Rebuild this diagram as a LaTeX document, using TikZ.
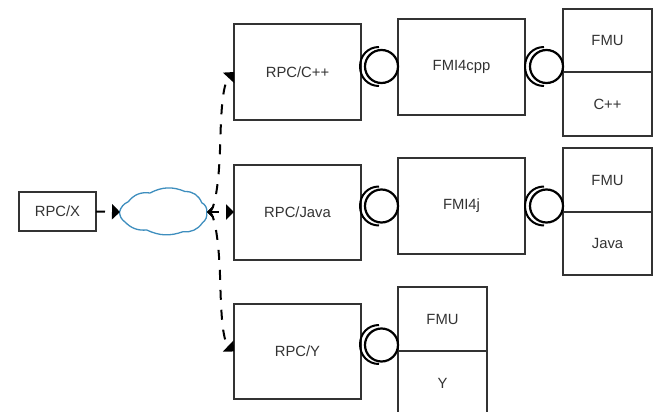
\documentclass[tikz,border=0pt]{standalone}
\usepackage{fontspec}
\setmainfont{Liberation Sans}
\usetikzlibrary{arrows.meta}
\definecolor{edge}{HTML}{333333}
\definecolor{cloudblue}{HTML}{3E8EBE}
\tikzset{
  box/.style={draw=edge,line width=2pt,fill=white,rectangle,inner sep=0pt,outer sep=0pt,text=edge,font=\fontsize{14.8}{16}\selectfont},
  big/.style={box,minimum width=127pt,minimum height=95pt},
  halfbox/.style={box,minimum width=89pt,minimum height=63.5pt},
  ball/.style={draw=black,line width=2.2pt,circle,minimum size=33pt,inner sep=0pt,outer sep=0pt},
  socket/.pic={\draw[black,line width=2pt] (-2,-19.5) .. controls (-13,-19.5) and (-21,-11) .. (-21,0) .. controls (-21,11) and (-13,19.5) .. (-2,19.5);},
  dashlink/.style={black,line width=2pt,dash pattern=on 10pt off 10pt,
    arrows={Straight Barb[length=5pt,width=10pt,line width=1.5pt]-Triangle[length=8pt,width=15pt]}},
  puff/.style={bend left=#1}
}
\begin{document}
\begin{tikzpicture}[x=1pt,y=-1pt]
\useasboundingbox (0,0) rectangle (653,412);
\node[box,minimum width=77pt,minimum height=39pt] (rx) at (57.5,211.5) {RPC/X};
\node[rectangle,minimum width=87pt,minimum height=51pt,inner sep=0pt,outer sep=0pt] (net) at (163.5,212) {};
\draw[cloudblue,line width=1.3pt,fill=white,line join=round]
  (119.5,212) to[puff=25] (128.3,201.7) to[puff=30] (150,193) to[puff=25] (185,191.5)
  to[puff=35] (201.7,202.7) to[puff=35] (206.7,212) to[puff=30] (202.3,223)
  to[puff=30] (183,231.7) to[puff=22] (146.7,230) to[puff=25] (125,222) to[puff=25] cycle;
\node[big] (rcpp) at (297.5,72) {RPC/C++};
\node[big] (rjava) at (297.5,212) {RPC/Java};
\node[big] (ry) at (297.5,351.5) {RPC/Y};
\node[big,minimum height=96pt] (fcpp) at (461.5,67) {FMI4cpp};
\node[big,minimum height=96pt] (fj) at (461.5,206) {FMI4j};
\node[halfbox] (fmua) at (607.5,40.5) {FMU};
\node[halfbox] (ca) at (607.5,104) {C++};
\node[halfbox] (fmub) at (607.5,180) {FMU};
\node[halfbox] (ja) at (607.5,243.5) {Java};
\node[halfbox] (fmuc) at (442.5,319) {FMU};
\node[halfbox] (ya) at (442.5,383) {Y};
% lollipops
\node[ball] (b1) at (381.5,66.5) {};
\node[ball] (b2) at (546.5,66.5) {};
\node[ball] (b3) at (381.5,206) {};
\node[ball] (b4) at (546.5,206) {};
\node[ball] (b5) at (381.5,345) {};
\pic at (381,66.5) {socket};
\pic at (546,66.5) {socket};
\pic at (381,206) {socket};
\pic at (546,206) {socket};
\pic at (381,344.5) {socket};
% connectors
\draw[black,line width=2pt,dash pattern=on 9pt off 10pt,-{Triangle[length=8pt,width=15pt]}] (rx.east) -- (net.west);
\draw[dashlink] (net.east) .. controls (215,212) and (219,180) .. (220,150) .. controls (221,115) and (222,85) .. (rcpp.west);
\draw[dashlink] (net.east) -- (rjava.west);
\draw[dashlink] (net.east) .. controls (215,212) and (219,245) .. (220,275) .. controls (221,310) and (222,340) .. (ry.west);
\end{tikzpicture}
\end{document}
